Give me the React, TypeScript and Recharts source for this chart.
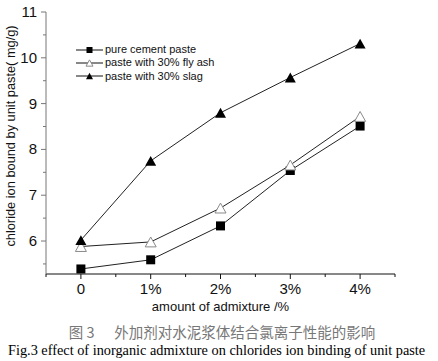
import React from 'react';
import { LineChart, Line, XAxis, YAxis, Legend } from 'recharts';

const categories = ['0', '1%', '2%', '3%', '4%'];
const pureCement = [5.39, 5.59, 6.33, 7.54, 8.51];
const flyAsh = [5.88, 5.98, 6.72, 7.66, 8.72];
const slag = [6.02, 7.75, 8.8, 9.57, 10.31];
const xTicks = [-0.5, 0, 0.5, 1, 1.5, 2, 2.5, 3, 3.5, 4, 4.5];
const yTicks = [5.5, 6, 6.5, 7, 7.5, 8, 8.5, 9, 9.5, 10, 10.5, 11];

const seriesNames = ['pure cement paste', 'paste with 30% fly ash', 'paste with 30% slag'];

const data = categories.map((c, i) => ({
  x: i,
  pure: pureCement[i],
  fly: flyAsh[i],
  slag: slag[i],
}));

const FONT = 'Arial, "Liberation Sans", sans-serif';

function Marker({ kind, cx, cy, size }: { kind: string; cx: number; cy: number; size: number }) {
  if (kind === 'square') {
    return <rect x={cx - size / 2} y={cy - size / 2} width={size} height={size} fill="#000" />;
  }
  const h = size * 0.9;
  const pts = `${cx - size / 2},${cy + h / 2} ${cx + size / 2},${cy + h / 2} ${cx},${cy - h / 2}`;
  if (kind === 'open') {
    return <polygon points={pts} fill="#fff" stroke="#8a8a8a" strokeWidth={1} />;
  }
  return <polygon points={pts} fill="#000" />;
}

const dotFor = (kind: string) => (props: any) => {
  const { cx, cy, index } = props;
  return <Marker key={index} kind={kind} cx={cx} cy={cy} size={kind === 'square' ? 9 : 11} />;
};

function XTick(props: any) {
  const { x, y, payload } = props;
  const v = payload.value;
  const major = Number.isInteger(v);
  return (
    <g>
      <line x1={x} y1={y} x2={x} y2={y + (major ? 5 : 3)} stroke="#111" />
      {major && v >= 0 && v <= 4 ? (
        <text x={x} y={y + 20} textAnchor="middle" fontFamily={FONT} fontSize={15} fill="#111">
          {categories[v]}
        </text>
      ) : null}
    </g>
  );
}

function YTick(props: any) {
  const { x, y, payload } = props;
  const v = payload.value;
  const major = Number.isInteger(v);
  return (
    <g>
      <line x1={x} y1={y} x2={x - (major ? 5 : 3)} y2={y} stroke="#777" />
      {major ? (
        <text x={x - 9} y={y + 5} textAnchor="end" fontFamily={FONT} fontSize={15} fill="#111">
          {v}
        </text>
      ) : null}
    </g>
  );
}

function LegendBox() {
  const kinds = ['square', 'open', 'filled'];
  return (
    <div style={{ fontFamily: FONT, fontSize: 11, color: '#111', lineHeight: '13.3px' }}>
      {seriesNames.map((n, i) => (
        <div key={n} style={{ display: 'flex', alignItems: 'center', height: 13.3 }}>
          <svg width={27} height={12} style={{ display: 'block' }}>
            <line x1={0} y1={6} x2={27} y2={6} stroke="#111" />
            <Marker kind={kinds[i]} cx={13.5} cy={6} size={kinds[i] === 'square' ? 6 : 7} />
          </svg>
          <span style={{ marginLeft: 2, whiteSpace: 'nowrap' }}>{n}</span>
        </div>
      ))}
    </div>
  );
}

export default function App() {
  return (
    <div style={{ position: 'absolute', left: 0, top: 0, width: 438, height: 361, background: '#fff', overflow: 'hidden' }}>
      <LineChart width={438} height={320} data={data} margin={{ top: 12, right: 43, left: 0, bottom: 6 }}>
        <XAxis
          type="number"
          dataKey="x"
          domain={[-0.5, 4.5]}
          ticks={xTicks}
          interval={0}
          tickSize={0}
          tickMargin={0}
          tick={<XTick />}
          height={40}
          axisLine={{ stroke: '#111' }}
          tickLine={false}
          label={{ value: 'amount of admixture /%', position: 'insideBottom', offset: 3, fontSize: 13, fontFamily: FONT, fill: '#111' }}
        />
        <YAxis
          type="number"
          domain={[5.28, 11]}
          ticks={yTicks}
          interval={0}
          tickSize={0}
          tickMargin={0}
          tick={<YTick />}
          width={46}
          axisLine={{ stroke: '#777' }}
          tickLine={false}
          allowDataOverflow
        />
        <Legend
          layout="vertical"
          verticalAlign="middle"
          align="center"
          content={<LegendBox />}
          wrapperStyle={{ left: 76, top: 43, width: 200 }}
        />
        <Line type="linear" dataKey="pure" stroke="#222" strokeWidth={1} dot={dotFor('square')} isAnimationActive={false} />
        <Line type="linear" dataKey="fly" stroke="#222" strokeWidth={1} dot={dotFor('open')} isAnimationActive={false} />
        <Line type="linear" dataKey="slag" stroke="#222" strokeWidth={1} dot={dotFor('filled')} isAnimationActive={false} />
      </LineChart>
      <svg style={{ position: 'absolute', left: 0, top: 0 }} width={30} height={290}>
        <text
          transform="translate(15,136) rotate(-90)"
          textAnchor="middle"
          fontFamily={FONT}
          fontSize={12.8}
          fill="#111"
        >
          chloride ion bound by unit paste( mg/g)
        </text>
      </svg>
      <div
        style={{
          position: 'absolute',
          left: 0,
          width: 444,
          top: 323,
          textAlign: 'center',
          fontFamily: '"Noto Sans CJK SC", sans-serif',
          fontSize: 14.5,
          color: '#777',
          whiteSpace: 'pre',
          lineHeight: '18px',
        }}
      >
        {'图 3      外加剂对水泥浆体结合氯离子性能的影响'}
      </div>
      <div
        style={{
          position: 'absolute',
          left: 8,
          top: 341,
          fontFamily: '"Liberation Serif", "Times New Roman", serif',
          fontSize: 14.3,
          color: '#000',
          whiteSpace: 'nowrap',
          lineHeight: '18px',
        }}
      >
        Fig.3 effect of inorganic admixture on chlorides ion binding of unit paste
      </div>
    </div>
  );
}
